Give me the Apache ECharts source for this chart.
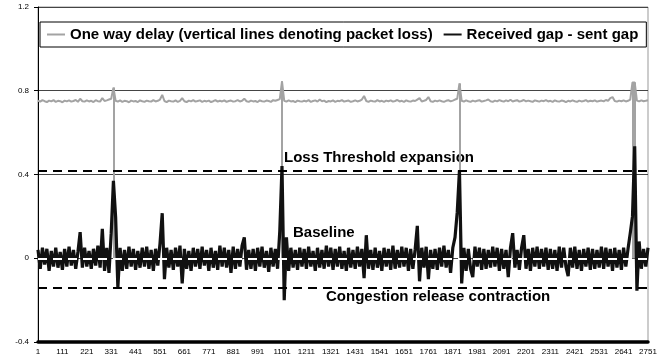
<!DOCTYPE html>
<html>
<head>
<meta charset="utf-8">
<script src="https://cdn.jsdelivr.net/npm/echarts@6/dist/echarts.min.js"></script>
<style>
  html, body { margin: 0; padding: 0; background: #fff; }
  #chart { width: 660px; height: 356px; }
</style>
</head>
<body>
<div id="chart"></div>
<script>
// every 10th packet, 1 .. 2751
var samples = []
for (var s = 1; s <= 2751; s += 10) samples.push(String(s))

var oneWayDelay = [
  0.752, 0.748, 0.755, 0.75, 0.746, 0.753, 0.749, 0.755, 0.747, 0.752, 0.75, 0.745,
  0.753, 0.749, 0.754, 0.748, 0.751, 0.756, 0.747, 0.762, 0.75, 0.748, 0.754, 0.749,
  0.752, 0.746, 0.755, 0.75, 0.748, 0.765, 0.751, 0.754, 0.758, 0.762, 0.815, 0.752,
  0.748, 0.754, 0.747, 0.752, 0.75, 0.745, 0.753, 0.749, 0.751, 0.746, 0.754, 0.75,
  0.747, 0.753, 0.75, 0.748, 0.755, 0.749, 0.752, 0.758, 0.78, 0.751, 0.746, 0.753,
  0.75, 0.748, 0.754, 0.747, 0.752, 0.765, 0.75, 0.746, 0.753, 0.749, 0.755, 0.748,
  0.751, 0.754, 0.747, 0.752, 0.749, 0.753, 0.746, 0.75, 0.755, 0.748, 0.752, 0.749,
  0.754, 0.747, 0.751, 0.753, 0.748, 0.75, 0.755, 0.749, 0.752, 0.762, 0.75, 0.747,
  0.753, 0.749, 0.751, 0.746, 0.754, 0.75, 0.748, 0.753, 0.751, 0.747, 0.755, 0.752,
  0.756, 0.76, 0.845, 0.752, 0.748, 0.754, 0.749, 0.751, 0.746, 0.753, 0.75, 0.748,
  0.752, 0.749, 0.755, 0.747, 0.751, 0.754, 0.748, 0.758, 0.75, 0.753, 0.746, 0.751,
  0.749, 0.754, 0.747, 0.752, 0.75, 0.755, 0.748, 0.751, 0.753, 0.747, 0.75, 0.754,
  0.749, 0.752, 0.758, 0.775, 0.751, 0.747, 0.753, 0.75, 0.748, 0.755, 0.749, 0.752,
  0.747, 0.753, 0.75, 0.754, 0.748, 0.751, 0.756, 0.749, 0.752, 0.747, 0.754, 0.75,
  0.748, 0.753, 0.751, 0.758, 0.765, 0.749, 0.752, 0.756, 0.77, 0.75, 0.747, 0.753,
  0.749, 0.754, 0.75, 0.747, 0.752, 0.755, 0.749, 0.753, 0.758, 0.762, 0.835, 0.752,
  0.748, 0.754, 0.75, 0.747, 0.753, 0.749, 0.752, 0.755, 0.748, 0.751, 0.754, 0.758,
  0.75, 0.747, 0.753, 0.749, 0.755, 0.751, 0.748, 0.754, 0.75, 0.757, 0.749, 0.752,
  0.755, 0.748, 0.751, 0.756, 0.749, 0.753, 0.75, 0.747, 0.754, 0.751, 0.748, 0.753,
  0.75, 0.755, 0.749, 0.752, 0.747, 0.754, 0.75, 0.748, 0.753, 0.751, 0.746, 0.752,
  0.749, 0.754, 0.75, 0.747, 0.753, 0.749, 0.751, 0.755, 0.748, 0.752, 0.75, 0.754,
  0.748, 0.751, 0.753, 0.749, 0.756, 0.752, 0.765, 0.77, 0.751, 0.748, 0.753, 0.75,
  0.754, 0.749, 0.752, 0.758, 0.84, 0.84, 0.753, 0.749, 0.754, 0.75, 0.752, 0.755
]

var gapDiff = [
  0.04, -0.05, 0.05, -0.03, 0.045, -0.06, 0.035, -0.04, 0.05, -0.045, 0.03, -0.055,
  0.045, -0.04, 0.055, -0.035, 0.04, -0.05, 0.03, 0.125, -0.045, 0.05, -0.04, 0.035,
  -0.05, 0.045, -0.035, 0.06, -0.045, 0.14, -0.06, 0.05, -0.07, 0.12, 0.37, 0.195,
  -0.14, 0.05, -0.06, 0.04, -0.05, 0.055, -0.04, 0.045, -0.055, 0.035, -0.045, 0.05,
  -0.04, 0.055, -0.05, 0.04, -0.06, 0.045, -0.035, 0.07, 0.215, -0.1, 0.05, -0.045,
  0.04, -0.055, 0.05, -0.04, 0.06, -0.12, 0.045, -0.05, 0.035, -0.06, 0.05, -0.04,
  0.045, -0.05, 0.055, -0.035, 0.04, -0.06, 0.05, -0.045, 0.035, -0.055, 0.06, -0.04,
  0.05, -0.045, 0.04, -0.07, 0.055, -0.05, 0.045, -0.04, 0.06, 0.1, -0.055, 0.04,
  -0.05, 0.045, -0.06, 0.05, -0.04, 0.055, -0.045, 0.035, -0.065, 0.05, -0.04, 0.045,
  -0.05, 0.13, 0.44, -0.2, 0.1, -0.06, 0.05, -0.045, 0.04, -0.055, 0.05, -0.04,
  0.045, -0.05, 0.055, -0.04, 0.035, -0.06, 0.05, -0.045, 0.04, -0.05, 0.06, -0.04,
  0.05, -0.055, 0.045, -0.04, 0.055, -0.05, 0.035, -0.06, 0.05, -0.045, 0.04, -0.05,
  0.055, -0.04, 0.045, -0.095, 0.11, -0.05, 0.04, -0.055, 0.05, -0.045, 0.035, -0.06,
  0.05, -0.04, 0.045, -0.055, 0.06, -0.05, 0.04, -0.045, 0.055, -0.04, 0.05, -0.06,
  0.045, -0.05, 0.04, 0.155, -0.11, 0.05, -0.045, 0.055, -0.1, 0.04, -0.05, 0.045,
  -0.055, 0.05, -0.04, 0.06, -0.045, 0.04, -0.07, 0.05, 0.1, 0.22, 0.42, -0.12,
  0.05, -0.06, 0.045, -0.05, -0.09, 0.055, -0.04, 0.05, -0.055, 0.045, -0.05, 0.04,
  -0.045, 0.055, -0.04, 0.05, -0.06, 0.045, -0.05, 0.04, -0.09, 0.05, 0.12, -0.045,
  0.04, -0.055, 0.05, 0.11, -0.05, 0.045, -0.06, 0.05, -0.04, 0.055, -0.05, 0.045,
  -0.04, 0.05, -0.055, 0.045, -0.05, 0.04, -0.06, 0.055, -0.045, 0.05, -0.04, -0.085,
  0.05, -0.045, 0.055, -0.05, 0.04, -0.06, 0.045, -0.04, 0.05, -0.055, 0.045, -0.05,
  0.04, -0.045, 0.055, -0.05, 0.05, -0.04, 0.045, -0.06, 0.05, -0.045, 0.04, -0.055,
  0.05, -0.04, 0.045, 0.12, 0.2, 0.535, -0.155, 0.08, -0.05, 0.045, -0.04, 0.05
]

// sample positions (index into samples) where packets were lost
var lossAt = [34, 110, 190, 268, 269]
var lossThreshold = 0.42
var releaseThreshold = -0.145
var baseline = 0

var font = 'Liberation Sans, Arial, sans-serif'

var lossLines = []
for (var i = 0; i < lossAt.length; i++) {
  lossLines.push([{coord: [lossAt[i], 0]}, {coord: [lossAt[i], oneWayDelay[lossAt[i]]]}])
}

var chart = echarts.init(document.getElementById('chart'))
chart.setOption({
  animation: false,
  grid: {left: 38, right: 12, top: 7, bottom: 13, show: true, borderColor: '#999', borderWidth: 1},
  legend: {
    left: 40,
    top: 22,
    padding: [5, 8, 5, 7],
    borderColor: '#000',
    borderWidth: 1,
    backgroundColor: '#fff',
    itemGap: 11,
    itemWidth: 18,
    itemHeight: 2,
    icon: 'rect',
    textStyle: {fontFamily: font, fontSize: 15, fontWeight: 'bold', color: '#000'},
    data: ['One way delay (vertical lines denoting packet loss)', 'Received gap - sent gap']
  },
  xAxis: {
    type: 'category',
    data: samples,
    boundaryGap: false,
    axisLine: {onZero: false, lineStyle: {color: '#000', width: 3.5}},
    axisTick: {show: false},
    axisLabel: {interval: 10, margin: 6, fontFamily: font, fontSize: 8, color: '#000'},
    splitLine: {show: false}
  },
  yAxis: {
    type: 'value',
    min: -0.4,
    max: 1.2,
    interval: 0.4,
    axisLine: {show: true, lineStyle: {color: '#000', width: 1}},
    axisTick: {show: true, length: 4, lineStyle: {color: '#000'}},
    axisLabel: {margin: 9, fontFamily: font, fontSize: 8, color: '#000'},
    splitLine: {lineStyle: {color: '#444', width: 1}}
  },
  series: [{
    name: 'One way delay (vertical lines denoting packet loss)',
    type: 'line',
    data: oneWayDelay,
    z: 1,
    showSymbol: false,
    symbol: 'none',
    color: '#a3a3a3',
    lineStyle: {color: '#a3a3a3', width: 2},
    markLine: {
      silent: true,
      z: 1,
      symbol: ['none', 'none'],
      label: {show: false},
      lineStyle: {color: '#a3a3a3', type: 'solid', width: 2},
      data: lossLines
    }
  }, {
    name: 'Received gap - sent gap',
    type: 'line',
    data: gapDiff,
    z: 2,
    showSymbol: false,
    symbol: 'none',
    color: '#111',
    lineStyle: {color: '#111', width: 3.2, join: 'bevel'},
    markLine: {
      silent: true,
      symbol: ['none', 'none'],
      label: {show: false},
      data: [
        {yAxis: lossThreshold, lineStyle: {color: '#000', type: [9, 6], width: 2}},
        {yAxis: releaseThreshold, lineStyle: {color: '#000', type: [9, 6], width: 2}},
        {yAxis: baseline, lineStyle: {color: '#fff', type: [9, 6], width: 2}}
      ]
    }
  }],
  graphic: [
    {type: 'text', left: 284, top: 150, style: {text: 'Loss Threshold expansion', font: 'bold 15px ' + font, fill: '#000'}},
    {type: 'text', left: 293, top: 225, style: {text: 'Baseline', font: 'bold 15px ' + font, fill: '#000'}},
    {type: 'text', left: 326, top: 289, style: {text: 'Congestion release contraction', font: 'bold 15px ' + font, fill: '#000'}}
  ]
})
</script>
</body>
</html>
